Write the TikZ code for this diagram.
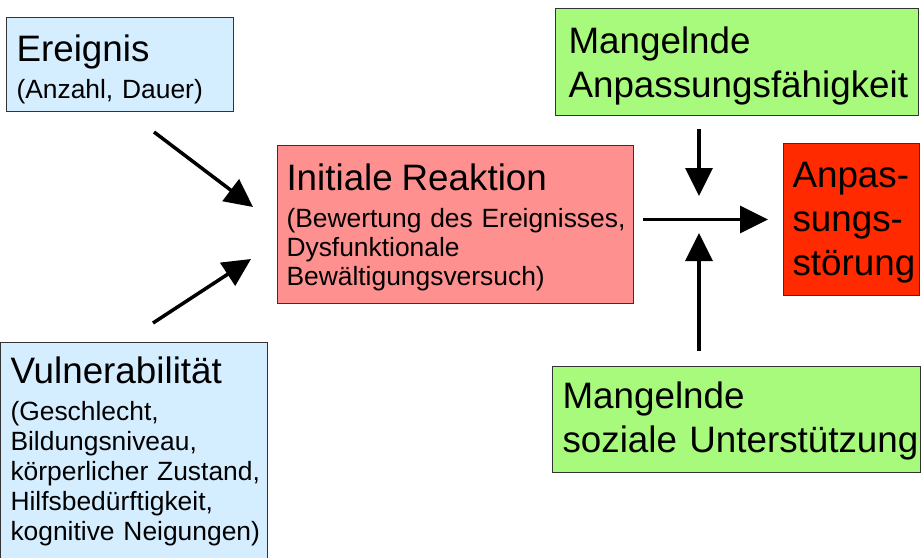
\documentclass[tikz,border=0pt]{standalone}
\usepackage{fontspec}
\setmainfont{Liberation Sans}
\usetikzlibrary{arrows.meta}
\definecolor{lightblue}{RGB}{213,238,255}
\definecolor{lightgreen}{RGB}{168,250,124}
\definecolor{lightred}{RGB}{255,144,144}
\definecolor{strongred}{RGB}{255,42,0}
\definecolor{boxline}{RGB}{51,51,51}
\newcommand\bigtxt{\fontsize{36.8}{44}\selectfont}
\newcommand\smalltxt{\fontsize{26.4}{30}\selectfont}
\hyphenpenalty=10000
\exhyphenpenalty=10000
\tikzset{
  box/.style={draw=boxline,line width=1pt,anchor=north west,align=left,inner ysep=0pt},
  arr/.style={line width=3.5pt,-{Triangle[length=28pt,width=27pt]}}
}

\begin{document}
\begin{tikzpicture}[x=1pt,y=-1pt]
    \useasboundingbox (0,0) rectangle (923,557);

    % left boxes
    \node[box,fill=lightblue,font=\smalltxt,text width=207pt,inner xsep=10pt,
          text height=44pt,text depth=50pt] (ereignis) at (6,17)
      {{\bigtxt Ereignis}\\[6.6pt]\mbox{(Anzahl, Dauer)}};
    \node[box,fill=lightblue,font=\smalltxt,text width=247pt,inner xsep=10pt,
          text height=41pt,text depth=185pt] (vulner) at (0,342)
      {{\bigtxt Vulnerabilität}\\[7pt](Geschlecht,\\Bildungsniveau,\\\mbox{körperlicher Zustand,}\\Hilfsbedürftigkeit,\\\mbox{kognitive Neigungen)}};

    % middle box
    \node[box,fill=lightred,font=\fontsize{26.4}{29}\selectfont,text width=338pt,inner xsep=9pt,
          text height=45pt,text depth=113pt] (initial) at (277,145)
      {{\bigtxt Initiale Reaktion}\\[8pt]\mbox{(Bewertung des Ereignisses,}\\Dysfunktionale\\Bewältigungsversuch)};

    % right boxes
    \node[box,fill=lightgreen,font=\bigtxt,text width=337pt,inner xsep=13pt,
          text height=45pt,text depth=62pt] (anpf) at (555,8)
      {Mangelnde\\\mbox{Anpassungsfähigkeit}};
    \node[box,fill=strongred,font=\bigtxt,text width=118pt,inner xsep=9pt,
          text height=44pt,text depth=108pt] (stoerung) at (783,143)
      {Anpas-\\sungs-\\\mbox{störung}};
    \node[box,fill=lightgreen,font=\bigtxt,text width=348pt,inner xsep=10pt,
          text height=42pt,text depth=64pt] (sozial) at (552,366)
      {Mangelnde\\\mbox{soziale Unterstützung}};

    % arrow ends
    \coordinate (evtail) at (154,132);
    \coordinate (evtip) at (253,207);
    \coordinate (vutail) at (153,323);
    \coordinate (vutip) at (251,259);
    \coordinate (join) at (699,219);

    % arrows
    \draw[arr] (evtail) -- (evtip);
    \draw[arr] (vutail) -- (vutip);
    \draw[arr,shorten <=9pt,shorten >=15pt] (initial.east |- stoerung.west) -- (stoerung.west);
    \draw[arr,shorten <=13pt,shorten >=23pt] (anpf.south -| join) -- (join);
    \draw[arr,shorten <=15pt,shorten >=14pt] (sozial.north -| join) -- (join);
  \end{tikzpicture}
\end{document}
